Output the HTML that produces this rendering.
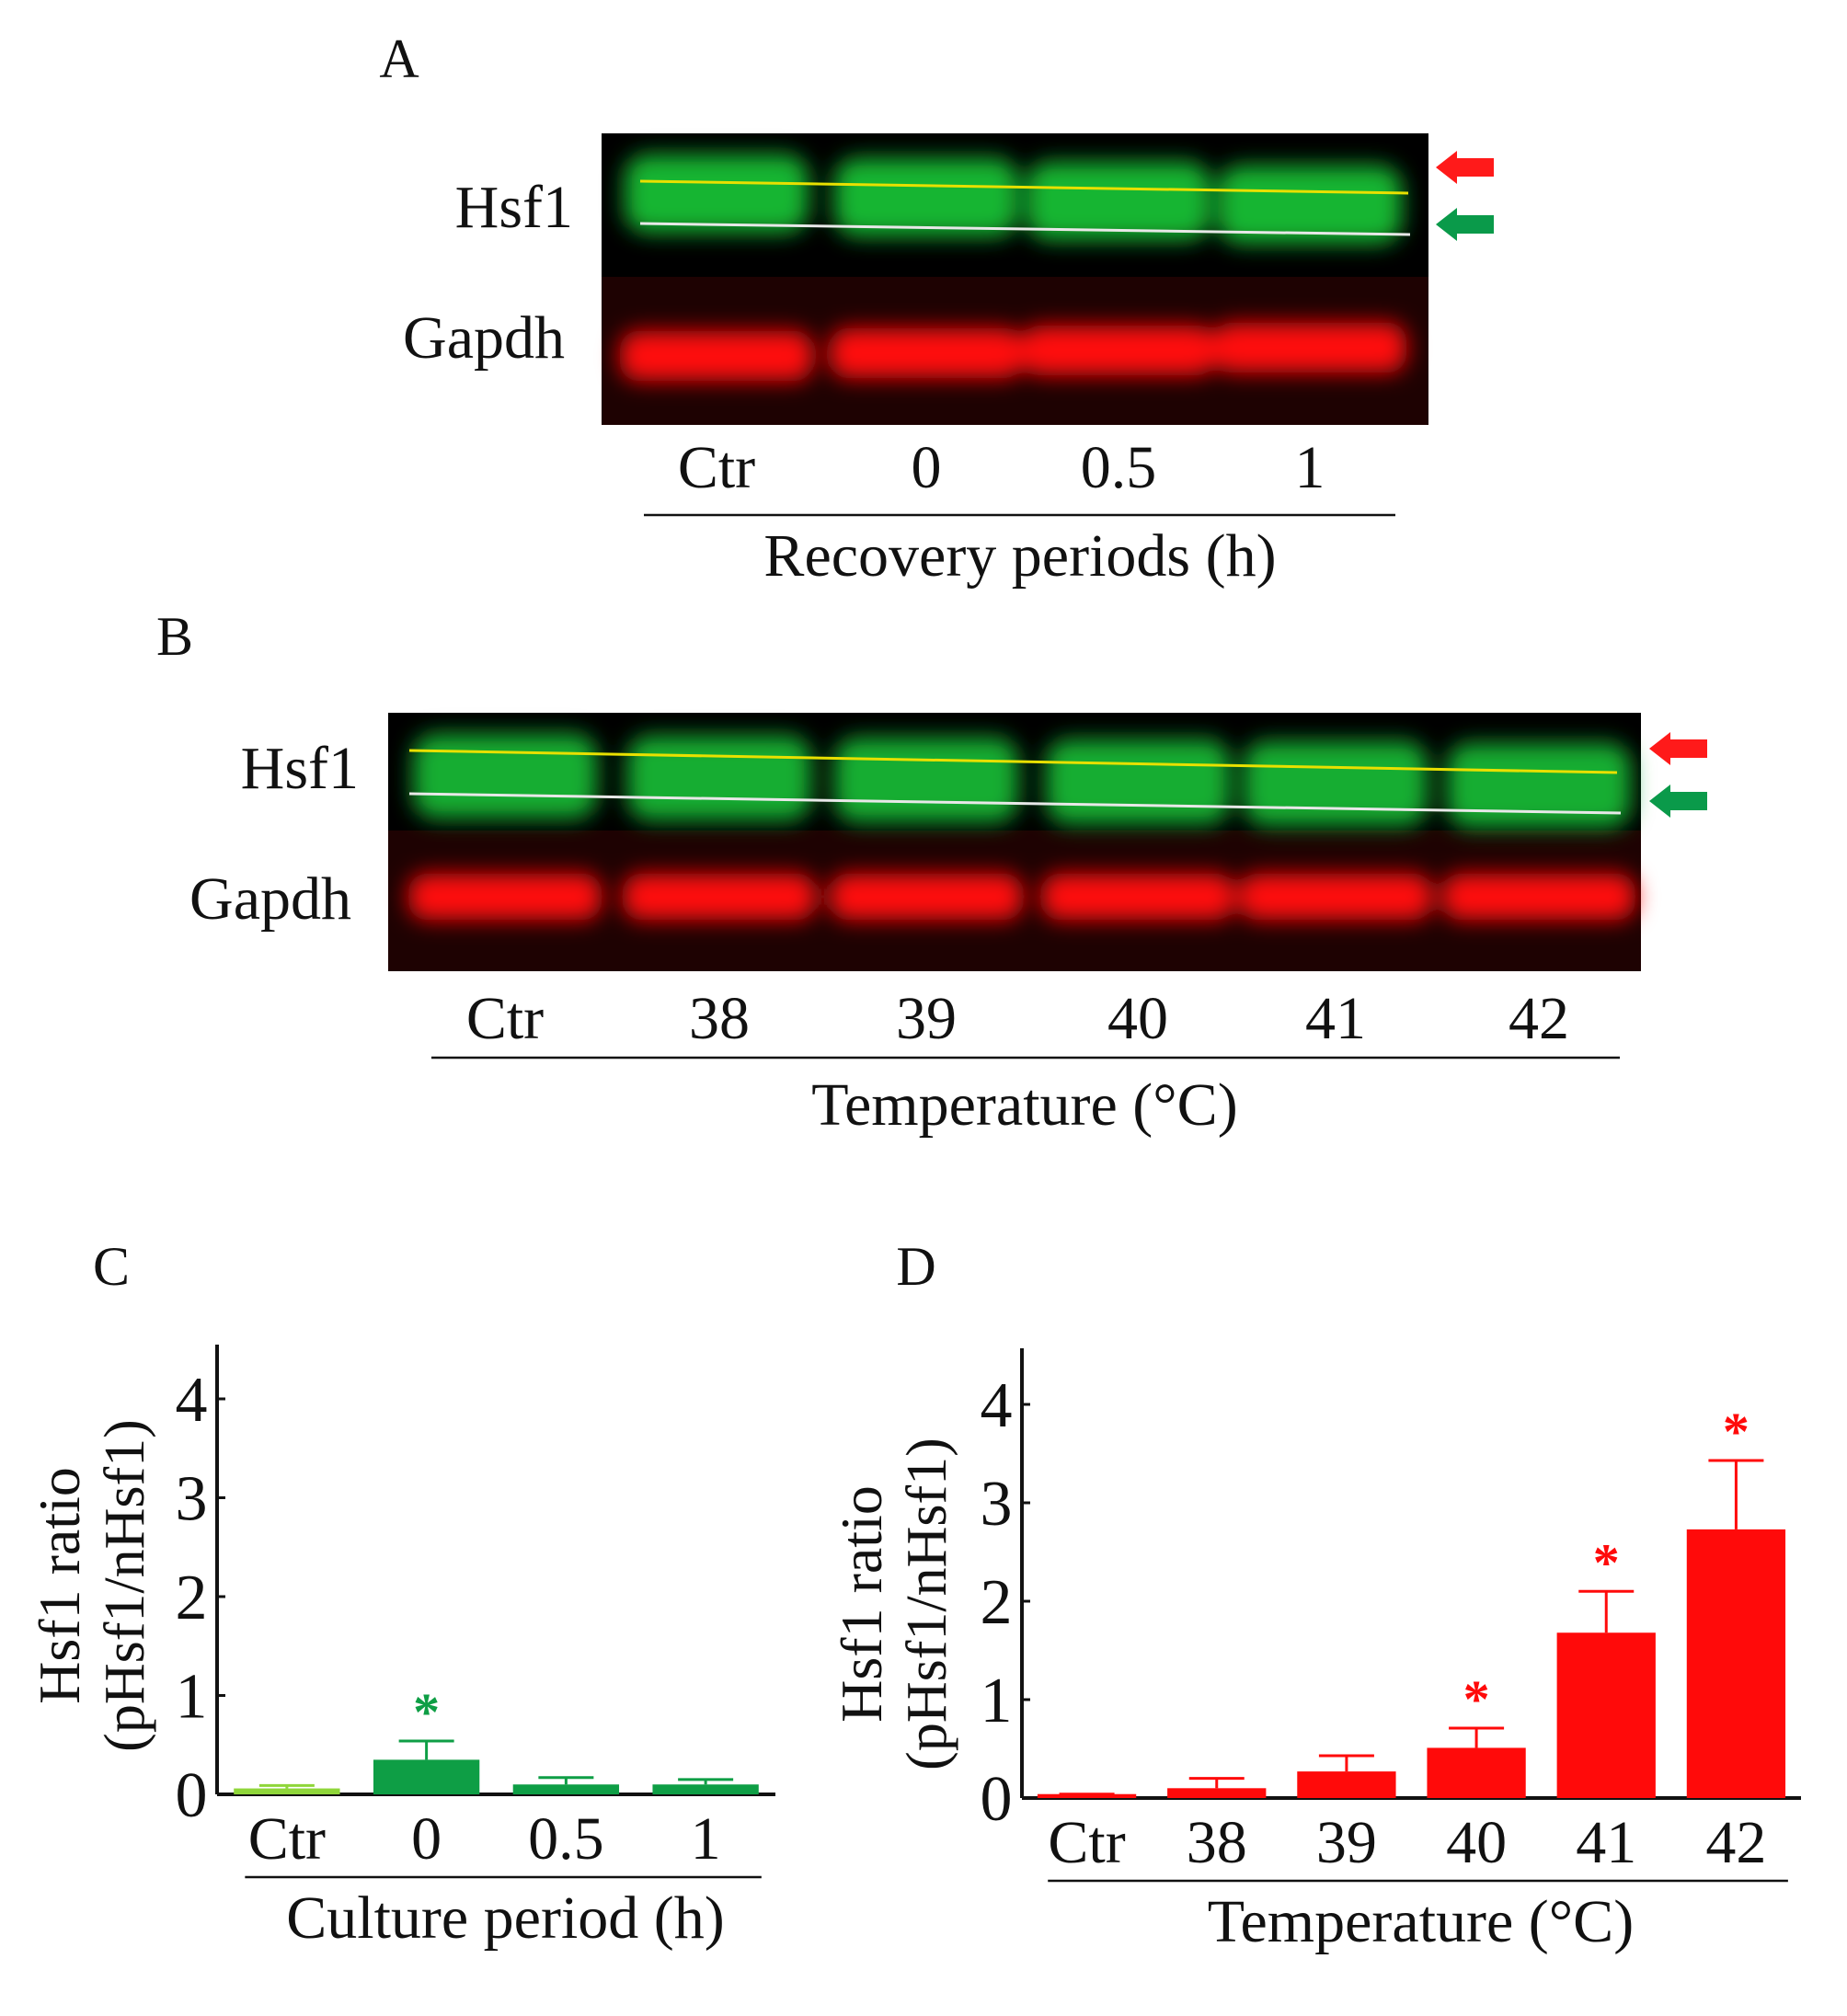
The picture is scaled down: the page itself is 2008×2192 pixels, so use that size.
<!DOCTYPE html>
<html><head><meta charset="utf-8"><style>
html,body{margin:0;padding:0;background:#fff}
svg text{font-family:"Liberation Serif",serif;fill:#111}
</style></head><body>
<svg id="fig" width="2008" height="2187" viewBox="0 0 2008 2187" xmlns="http://www.w3.org/2000/svg">
<defs>
<filter id="blur" x="-20%" y="-50%" width="140%" height="200%"><feGaussianBlur stdDeviation="12"/></filter>
</defs>
<text x="434" y="84" font-size="60" text-anchor="middle">A</text>
<g>
<rect x="654" y="145" width="899" height="156" fill="#000"/>
<rect x="654" y="301" width="899" height="161" fill="#1e0202"/>
<g id="ga" filter="url(#blur)"></g>
<line x1="696" y1="197" x2="1531" y2="210" stroke="#e8e000" stroke-width="3"/>
<line x1="696" y1="243" x2="1533" y2="255" stroke="#e8e8e8" stroke-width="3"/>
</g>
<text x="623" y="247" font-size="66" text-anchor="end">Hsf1</text>
<text x="614" y="389" font-size="66" text-anchor="end">Gapdh</text>
<polygon points="1561,182 1584,164 1584,172 1624,172 1624,192 1584,192 1584,200" fill="#ff1a1a"/>
<polygon points="1561,244 1584,226 1584,234 1624,234 1624,254 1584,254 1584,262" fill="#0a9a4a"/>
<g font-size="66" text-anchor="middle">
<text x="779" y="530">Ctr</text><text x="1007" y="530">0</text><text x="1216" y="530">0.5</text><text x="1424" y="530">1</text></g>
<line x1="700" y1="560" x2="1517" y2="560" stroke="#111" stroke-width="2.5"/>
<text x="1109" y="626" font-size="66" text-anchor="middle">Recovery periods (h)</text>

<text x="190" y="712" font-size="60" text-anchor="middle">B</text>
<g>
<rect x="422" y="775" width="1362" height="128" fill="#000"/>
<rect x="422" y="903" width="1362" height="153" fill="#1e0202"/>
<g id="gb" filter="url(#blur)"></g>
<line x1="445" y1="816" x2="1758" y2="840" stroke="#e8e000" stroke-width="3"/>
<line x1="445" y1="863" x2="1762" y2="884" stroke="#e8e8e8" stroke-width="3"/>
</g>
<text x="390" y="857" font-size="66" text-anchor="end">Hsf1</text>
<text x="382" y="999" font-size="66" text-anchor="end">Gapdh</text>
<polygon points="1793,814 1816,796 1816,804 1856,804 1856,824 1816,824 1816,832" fill="#ff1a1a"/>
<polygon points="1793,871 1816,853 1816,861 1856,861 1856,881 1816,881 1816,889" fill="#0a9a4a"/>
<g font-size="66" text-anchor="middle">
<text x="549" y="1129">Ctr</text><text x="782" y="1129">38</text><text x="1007" y="1129">39</text><text x="1237" y="1129">40</text><text x="1452" y="1129">41</text><text x="1673" y="1129">42</text></g>
<line x1="469" y1="1150" x2="1761" y2="1150" stroke="#111" stroke-width="2.5"/>
<text x="1114" y="1223" font-size="66" text-anchor="middle">Temperature (°C)</text>

<text x="121" y="1397" font-size="60" text-anchor="middle">C</text>
<text x="996" y="1397" font-size="60" text-anchor="middle">D</text>
<g id="chartC"></g>
<g id="chartD"></g>
</svg>
<script>
const cCats=["Ctr","0","0.5","1"];
const cVals=[0.06,0.35,0.1,0.1];
const cErr=[0.09,0.54,0.17,0.15];
const cSig=[false,true,false,false];
const dCats=["Ctr","38","39","40","41","42"];
const dVals=[0.04,0.1,0.27,0.51,1.68,2.73];
const dErr=[0.04,0.2,0.43,0.71,2.1,3.43];
const dSig=[false,false,false,true,true,true];
const yTicks=[0,1,2,3,4];
const NS="http://www.w3.org/2000/svg";
function mk(tag,attrs,parent){const e=document.createElementNS(NS,tag);for(const k in attrs)e.setAttribute(k,attrs[k]);parent.appendChild(e);return e;}

const ga=document.getElementById('ga');
[779,1007,1216,1424].forEach((x,i)=>{
 const g=mk('rect',{x:x-100,y:168+i*4,width:200,height:85,rx:25,fill:'#16b530'},ga);
 
 
 const r=mk('rect',{x:x-105,y:360-i*3,width:210,height:54,rx:20,fill:'#ff1010'},ga);
 
 
});
const gb=document.getElementById('gb');
[549,782,1007,1237,1452,1673].forEach((x,i)=>{
 const g=mk('rect',{x:x-100,y:798+i*2,width:200,height:92,rx:25,fill:'#16ad30'},gb);
 
 
 const r=mk('rect',{x:x-105,y:950,width:210,height:50,rx:20,fill:'#ff1010'},gb);
 
 
});

function chart(gid,cfg){
 const g=document.getElementById(gid);
 const y=v=>cfg.y0-v*cfg.unit;
 const ax=mk('line',{x1:cfg.ax,y1:cfg.top,x2:cfg.ax,y2:cfg.y0,stroke:'#111','stroke-width':4},g);
 
 
 const xx=mk('line',{x1:cfg.ax,y1:cfg.y0,x2:cfg.right,y2:cfg.y0,stroke:'#111','stroke-width':4},g);
 
 
 yTicks.forEach(t=>{
  mk('line',{x1:cfg.ax,y1:y(t),x2:cfg.ax+9,y2:y(t),stroke:'#111','stroke-width':3},g);
  const tx=mk('text',{x:cfg.ax-28,y:y(t)+24,'font-size':70,'text-anchor':'middle'},g);
  tx.textContent=t;
  
  
 });
 const n=cfg.cats.length, step=(cfg.right-cfg.ax)/n;
 cfg.cats.forEach((c,i)=>{
  const cx=cfg.ax+step*(i+0.5), bw=step*0.76;
  const col=cfg.colors(i);
  const b=mk('rect',{x:cx-bw/2,y:y(cfg.vals[i]),width:bw,height:cfg.y0-y(cfg.vals[i]),fill:col},g);
  
  
  mk('line',{x1:cx,y1:y(cfg.vals[i]),x2:cx,y2:y(cfg.err[i]),stroke:col,'stroke-width':3},g);
  mk('line',{x1:cx-30,y1:y(cfg.err[i]),x2:cx+30,y2:y(cfg.err[i]),stroke:col,'stroke-width':3},g);
  if(cfg.sig[i]){const s=mk('text',{x:cx,y:y(cfg.err[i])-12,'font-size':58,'font-weight':'bold','text-anchor':'middle',style:'fill:'+col},g);s.textContent='*';
   
   }
  const l=mk('text',{x:cx,y:cfg.y0+70,'font-size':66,'text-anchor':'middle'},g);
  l.textContent=c;
  
  
 });
 mk('line',{x1:cfg.ax+step*0.2,y1:cfg.y0+90,x2:cfg.right-step*0.1,y2:cfg.y0+90,stroke:'#111','stroke-width':2.5},g);
 const xt=mk('text',{x:(cfg.ax+cfg.right)/2+cfg.xtOff,y:cfg.y0+156,'font-size':66,'text-anchor':'middle'},g);
 xt.textContent=cfg.xtitle;
 
 
 const t1=mk('text',{x:0,y:0,'font-size':64,'text-anchor':'middle',transform:`translate(${cfg.tx1},${cfg.ty}) rotate(-90)`},g);
 t1.textContent='Hsf1  ratio';
 
 
 const t2=mk('text',{x:0,y:0,'font-size':62,'text-anchor':'middle',transform:`translate(${cfg.tx2},${cfg.ty}) rotate(-90)`},g);
 t2.textContent='(pHsf1/nHsf1)';
 
 
}
chart('chartC',{cats:cCats,vals:cVals,err:cErr,sig:cSig,ax:236,right:843,top:1462,y0:1951,unit:107.5,
 colors:i=>i===0?'#8fd63a':'#0e9e45',xtitle:'Culture period (h)',xtOff:10,tx1:86,tx2:156,ty:1724});
chart('chartD',{cats:dCats,vals:dVals,err:dErr,sig:dSig,ax:1111,right:1958,top:1466,y0:1955,unit:107,
 colors:i=>'#ff0a0a',xtitle:'Temperature (°C)',xtOff:10,tx1:958,tx2:1028,ty:1744});
</script>
</body></html>
